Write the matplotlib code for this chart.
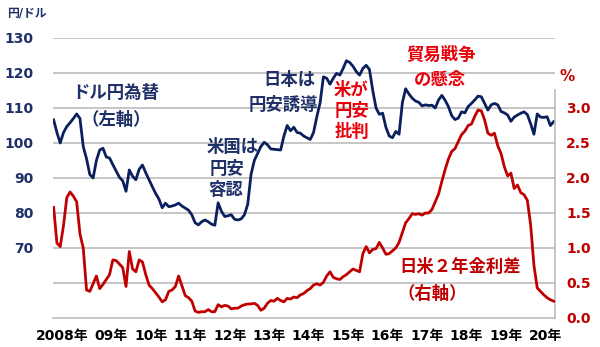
import matplotlib
matplotlib.use("Agg")
import matplotlib.pyplot as plt

plt.rcParams['font.family'] = ['DejaVu Sans', 'Noto Sans CJK JP']

# 月次 2008年1月〜2020年9月
ドル円 = [
    106.6, 103.0, 100.0, 103.0, 104.7, 105.8, 107.0, 108.3, 107.0, 99.0, 95.5, 91.0,
    90.0, 95.0, 98.0, 98.5, 96.0, 95.7, 93.8, 92.0, 90.2, 89.2, 86.2, 92.3,
    90.5, 89.5, 92.5, 93.7, 91.5, 89.5, 87.5, 85.6, 84.0, 81.5, 82.8, 81.8,
    82.0, 82.3, 82.8, 82.0, 81.4, 80.8, 79.5, 77.2, 76.6, 77.5, 78.0, 77.5,
    76.8, 76.5, 82.9, 80.5, 79.0, 79.2, 79.5, 78.2, 78.0, 78.3, 79.5, 82.5,
    91.0, 95.0, 97.0, 99.0, 100.2, 99.5, 98.3, 98.2, 98.1, 98.0, 102.0, 105.0,
    103.5, 104.5, 103.0, 102.8, 102.0, 101.5, 101.0, 103.0, 107.5, 111.5, 118.9, 118.5,
    116.8, 118.5, 119.9, 119.4, 121.3, 123.5, 123.0, 121.9, 120.4, 119.4, 121.3, 122.2,
    121.0, 115.0, 110.0, 108.2, 108.5, 104.5, 102.0, 101.5, 103.3, 102.5, 111.5, 115.5,
    114.0, 112.8, 112.0, 111.6, 110.6, 110.9, 110.7, 110.8, 110.0, 112.3, 113.6, 112.2,
    110.4, 107.8, 106.7, 107.1, 108.9, 108.6, 110.4, 111.3, 112.3, 113.4, 113.2, 111.3,
    109.4, 110.9, 111.3, 110.9, 109.0, 108.6, 108.0, 106.2, 107.4, 108.0, 108.5, 108.9,
    108.1, 105.5, 102.5, 108.3, 107.4, 107.3, 107.5, 105.0, 106.1,
]
金利差 = [
    1.58, 1.07, 1.02, 1.32, 1.72, 1.80, 1.74, 1.66, 1.20, 1.00, 0.40, 0.38,
    0.49, 0.60, 0.42, 0.48, 0.55, 0.62, 0.83, 0.82, 0.77, 0.72, 0.45, 0.95,
    0.70, 0.66, 0.83, 0.80, 0.62, 0.47, 0.42, 0.36, 0.30, 0.23, 0.26, 0.38,
    0.40, 0.45, 0.60, 0.46, 0.32, 0.29, 0.24, 0.10, 0.08, 0.09, 0.09, 0.12,
    0.09, 0.09, 0.19, 0.16, 0.18, 0.17, 0.13, 0.14, 0.14, 0.17, 0.19, 0.20,
    0.20, 0.21, 0.18, 0.11, 0.14, 0.21, 0.25, 0.24, 0.28, 0.25, 0.23, 0.28,
    0.27, 0.30, 0.29, 0.33, 0.35, 0.39, 0.42, 0.47, 0.49, 0.47, 0.51, 0.60,
    0.66, 0.58, 0.56, 0.55, 0.59, 0.62, 0.66, 0.70, 0.68, 0.66, 0.92, 1.02,
    0.93, 0.98, 0.99, 1.08, 1.00, 0.91, 0.92, 0.96, 1.00, 1.08, 1.22, 1.36,
    1.42, 1.49, 1.48, 1.49, 1.47, 1.50, 1.50, 1.55, 1.66, 1.77, 1.95, 2.12,
    2.27, 2.38, 2.42, 2.52, 2.62, 2.67, 2.75, 2.77, 2.88, 2.97, 2.96, 2.83,
    2.64, 2.61, 2.64, 2.46, 2.35, 2.16, 2.03, 2.07, 1.85, 1.90, 1.79, 1.76,
    1.68, 1.33, 0.75, 0.43, 0.38, 0.33, 0.29, 0.26, 0.24,
]
年ラベル = ['2008年', '09年', '10年', '11年', '12年', '13年', '14年',
          '15年', '16年', '17年', '18年', '19年', '20年']
左目盛 = [70, 80, 90, 100, 110, 120, 130]
右目盛 = [0.0, 0.5, 1.0, 1.5, 2.0, 2.5, 3.0]

navy = '#0b1f5e'
navy_txt = '#1f3068'
red = '#c00000'
red2 = '#e8000b'
grid = '#bcbcbc'

fig = plt.figure(figsize=(6, 3.47), dpi=100)
ax = fig.add_axes([0.0883, 0.0836, 0.8367, 0.8069])
ax2 = ax.twinx()

月 = list(range(len(ドル円)))
ax.plot(月, ドル円, color=navy, lw=2.0, zorder=3)
ax2.plot(月, 金利差, color=red, lw=2.0, zorder=3)

ax.set_ylim(50, 130)
ax2.set_ylim(0, 4)
ax.set_xlim(-0.2, 152.4)

for v in range(60, 131, 10):
    ax.axhline(v, color=grid, lw=1.2, zorder=1)

ax.set_yticks(左目盛)
ax.set_yticklabels([str(v) for v in 左目盛], color=navy_txt, fontsize=10, fontweight='bold')
ax.tick_params(axis='y', length=0, pad=14)

ax2.set_yticks(右目盛)
ax2.set_yticklabels([f'{v:.1f}' for v in 右目盛], color=red, fontsize=10, fontweight='bold')
ax2.tick_params(axis='y', length=0, pad=8)

ax.set_xticks([2.5] + [12 * i + 5.5 for i in range(1, len(年ラベル))])
ax.set_xticklabels(年ラベル, fontsize=10, fontweight='bold', color='black')
ax.tick_params(axis='x', length=0, pad=8)

for a in (ax, ax2):
    a.spines['top'].set_visible(False)
    a.spines['left'].set_visible(False)
ax.spines['right'].set_visible(False)
ax.spines['bottom'].set_color(grid)
ax.spines['bottom'].set_linewidth(1.2)
ax2.spines['bottom'].set_visible(False)
ax2.spines['right'].set_color(grid)
ax2.spines['right'].set_linewidth(1.2)
ax2.spines['right'].set_bounds(0, 3.25)

fig.text(0.045, 0.962, '円/ドル', color=navy_txt, fontsize=8.5, fontweight='bold',
         ha='center', va='center')
fig.text(0.945, 0.78, '%', color=red, fontsize=11, fontweight='bold',
         ha='center', va='center')

kw = dict(fontsize=12.5, fontweight='bold', ha='center', va='center', transform=fig.transFigure)
fig.text(116 / 600, 1 - 93 / 347, 'ドル円為替', color=navy_txt, **kw)
fig.text(116 / 600, 1 - 120 / 347, '（左軸）', color=navy_txt, **kw)
fig.text(289 / 600, 1 - 80 / 347, '日本は', color=navy_txt, **kw)
fig.text(283 / 600, 1 - 105 / 347, '円安誘導', color=navy_txt, **kw)
fig.text(233 / 600, 1 - 147 / 347, '米国は', color=navy_txt, **kw)
fig.text(227 / 600, 1 - 169 / 347, '円安', color=navy_txt, **kw)
fig.text(226 / 600, 1 - 190 / 347, '容認', color=navy_txt, **kw)
fig.text(351 / 600, 1 - 90 / 347, '米が', color=red2, **kw)
fig.text(352 / 600, 1 - 111 / 347, '円安', color=red2, **kw)
fig.text(352 / 600, 1 - 132 / 347, '批判', color=red2, **kw)
fig.text(441 / 600, 1 - 55 / 347, '貿易戦争', color=red2, **kw)
fig.text(440 / 600, 1 - 80 / 347, 'の懸念', color=red2, **kw)
fig.text(460 / 600, 1 - 267 / 347, '日米２年金利差', color=red, **kw)
fig.text(432 / 600, 1 - 294 / 347, '（右軸）', color=red, **kw)

fig.savefig('out.png', dpi=100)
